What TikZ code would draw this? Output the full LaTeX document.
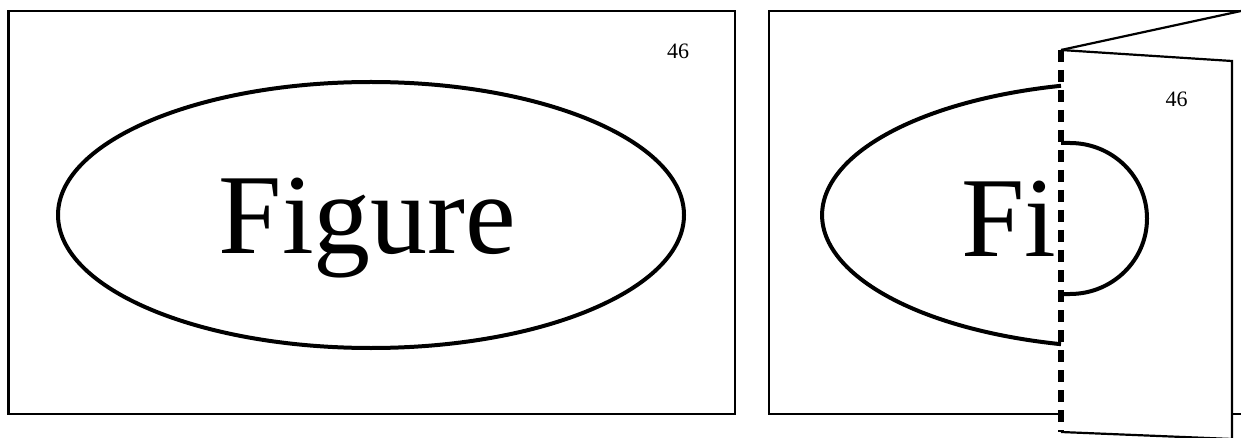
\documentclass[tikz,border=0pt]{standalone}
\usepackage{fontspec}
\setmainfont{Liberation Serif}

\begin{document}
\begin{tikzpicture}[x=1pt,y=-1pt,
	frame/.style={line width=2.2pt},
	outline/.style={line width=4pt,line join=round},
	fold/.style={line width=5.5pt,dash pattern=on 12pt off 8pt},
	bigtext/.style={inner sep=0pt,anchor=base west,font=\fontsize{114}{114}\selectfont},
	pagenum/.style={inner sep=0pt,anchor=base west,font=\fontsize{22}{22}\selectfont}]
	\useasboundingbox (0,0) rectangle (1241,438);
	% flat page
	\draw[frame] (8.5,11) rectangle (735,414);
	\draw[outline] (371,215) ellipse [x radius=313, y radius=133];
	\node[bigtext] (figure) at (218.5,254) {Figure};
	\node[pagenum] (numflat) at (667,59) {46};
	% folded page
	\draw[frame] (1059,414) -- (769,414) -- (769,11) -- (1241,11);
	\draw[frame] (1232,414) -- (1241,414);
	\draw[outline] (1061,344.2) arc[start angle=103.7,end angle=256.3,x radius=313,y radius=133];
	\node[bigtext] (fi) at (961,257) {Fi};
	% flap
	\draw[frame] (1061,50) -- (1241,11);
	\draw[frame] (1061,50) -- (1232,61) -- (1232,438);
	\draw[frame] (1061,432) -- (1232,439);
	\draw[outline] (1061,143) -- (1070,143) arc[start angle=-90,end angle=90,x radius=77,y radius=75.5] -- (1061,294);
	\draw[fold] (1061,50) -- (1061,432);
	\node[pagenum] (numfold) at (1165.5,107) {46};
\end{tikzpicture}
\end{document}
